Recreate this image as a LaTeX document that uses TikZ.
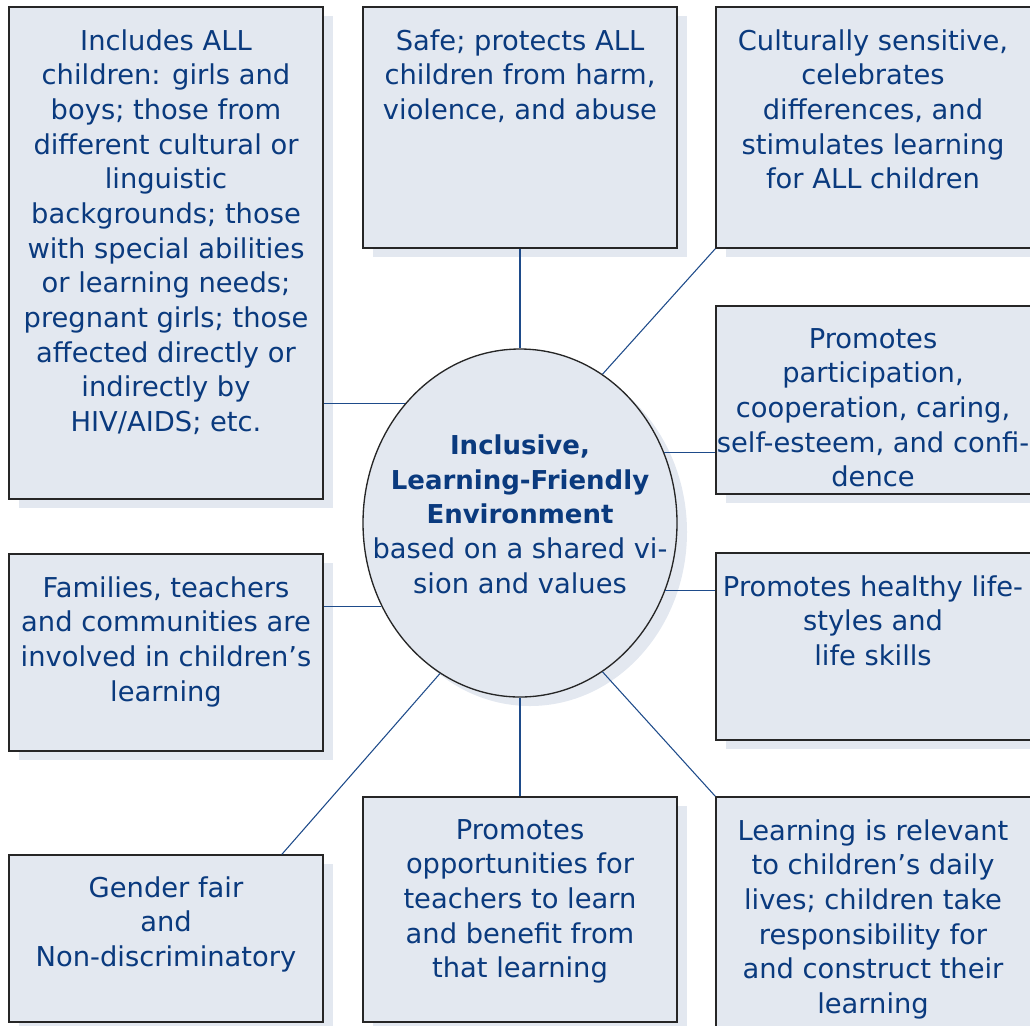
\documentclass[tikz,border=0pt]{standalone}
\usepackage{fontspec}
\setmainfont{DejaVu Sans}
\usetikzlibrary{shapes.geometric,shadows,fit}

\definecolor{boxfill}{HTML}{E3E8F0}
\definecolor{navy}{HTML}{0A3A7E}
\definecolor{linkblue}{HTML}{1E4B8A}

\tikzset{
  flatshadow/.style={drop shadow={shadow xshift=7.5pt,shadow yshift=-6.75pt,fill=boxfill,opacity=1}},
  box/.style={draw=black!85,line width=1pt,fill=boxfill,inner sep=0pt,flatshadow},
  hub/.style={ellipse,draw=black!85,line width=1pt,fill=boxfill,inner sep=0pt,
    minimum width=235.5pt,minimum height=261pt,flatshadow},
  boxtext/.style={text=navy,align=center,anchor=north,inner sep=0pt,
    font=\fontsize{20.5}{26}\selectfont,execute at begin node={\rule{0pt}{16pt}}},
  hubtext/.style={text=navy,align=center,inner sep=0pt,font=\fontsize{20.5}{26}\selectfont},
  link/.style={draw=linkblue,line width=0.8pt}
}
\newcommand{\hubbold}[1]{{\fontsize{19.5}{26}\selectfont\bfseries #1}}

\begin{document}
\begin{tikzpicture}[x=0.75pt,y=-0.75pt]
        \useasboundingbox (0,0) rectangle (1030,1025);
        % boxes round the hub
        \node[box,fit={(9,7) (323,499)}]      (incl)   {};
        \node[box,fit={(363,7) (677,248)}]    (safe)   {};
        \node[box,fit={(716,7) (1046,248)}]   (cult)   {};
        \node[box,fit={(716,306) (1046,494)}] (part)   {};
        \node[box,fit={(716,553) (1046,740)}] (health) {};
        \node[box,fit={(716,797) (1046,1045)}] (relev) {};
        \node[box,fit={(363,797) (677,1022)}] (teach)  {};
        \node[box,fit={(9,855) (323,1022)}]   (gender) {};
        \node[box,fit={(9,554) (323,751)}]    (family) {};
        \node[hub] (env) at (520,523) {};

        % texts
        \node[boxtext] (incltext) at (166,29) {Includes ALL\\children: girls and\\boys; those from\\different cultural or\\linguistic\\backgrounds; those\\with special abilities\\or learning needs;\\pregnant girls; those\\affected directly or\\indirectly by\\HIV/AIDS; etc.};
        \node[boxtext] (safetext) at (520,29) {Safe; protects ALL\\children from harm,\\violence, and abuse};
        \node[boxtext] (culttext) at (873,29) {Culturally sensitive,\\celebrates\\differences, and\\stimulates learning\\for ALL children};
        \node[boxtext] (parttext) at (873,328) {Promotes\\participation,\\cooperation, caring,\\self-esteem, and confi-\\dence};
        \node[boxtext] (healthtext) at (873,575) {Promotes healthy life-\\styles and\\life skills};
        \node[boxtext] (relevtext) at (873,819) {Learning is relevant\\to children’s daily\\lives; children take\\responsibility for\\and construct their\\learning};
        \node[boxtext] (teachtext) at (520,819) {Promotes\\opportunities for\\teachers to learn\\and benefit from\\that learning};
        \node[boxtext] (gendertext) at (166,876) {Gender fair\\and\\Non-discriminatory};
        \node[boxtext] (familytext) at (166,576) {Families, teachers\\and communities are\\involved in children’s\\learning};
        \node[hubtext] (envtext) at (520,514) {\hubbold{Inclusive,}\\\hubbold{Learning-Friendly}\\\hubbold{Environment}\\based on a shared vi-\\sion and values};

        % spokes
        \draw[link] (env.134) -- (env.134 -| incl.east);
        \draw[link] (env.north) -- (safe.south);
        \draw[link] (env.61) -- (cult.south west);
        \draw[link] (env.26) -- (env.26 -| part.west);
        \draw[link] (env.-25) -- (env.-25 -| health.west);
        \draw[link] (env.-61) -- (relev.north west);
        \draw[link] (env.south) -- (teach.north);
        \draw[link] (env.242) -- (gender.36);
        \draw[link] (env.211) -- (env.211 -| family.east);
\end{tikzpicture}
\end{document}
